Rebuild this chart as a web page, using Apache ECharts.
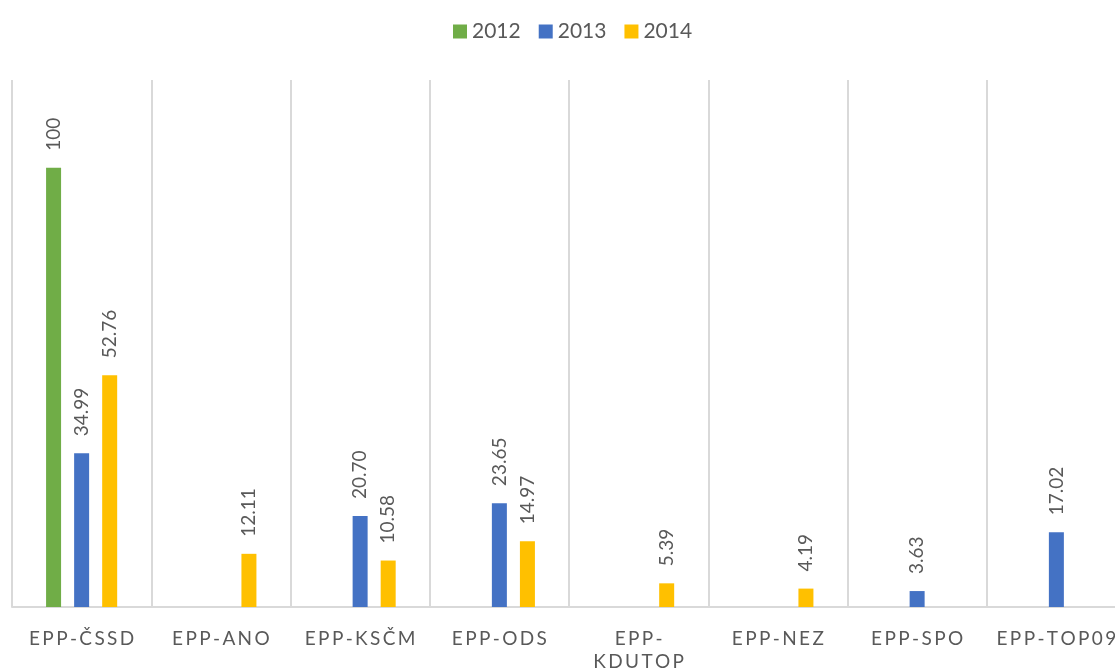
<!DOCTYPE html>
<html><head><meta charset="utf-8">
<script src="https://cdn.jsdelivr.net/npm/echarts@6/dist/echarts.min.js"></script>
<style>html,body{margin:0;padding:0;background:#fff}#c{width:1115px;height:668px}</style>
</head><body><div id="c"></div>
<script>
const categories = ['EPP-ČSSD','EPP-ANO','EPP-KSČM','EPP-ODS','EPP-KDUTOP','EPP-NEZ','EPP-SPO','EPP-TOP09'];
const seriesNames = ['2012','2013','2014'];
const values2012 = [100, null, null, null, null, null, null, null];
const values2013 = [34.99, null, 20.70, 23.65, null, null, 3.63, 17.02];
const values2014 = [52.76, 12.11, 10.58, 14.97, 5.39, 4.19, null, null];
const colors = ['#70AD47','#4472C4','#FFC000'];
const FONT = 'Lato';
const spaced = s => s.split('').join('\u2009');
function fmtCat(s){
  if (s.length > 9) { const i = s.indexOf('-'); return spaced(s.slice(0,i+1)) + '\n' + spaced(s.slice(i+1)); }
  return spaced(s);
}
const fmtVal = v => Number.isInteger(v) ? String(v) : v.toFixed(2);
const chart = echarts.init(document.getElementById('c'));
const mk = (name, data, color) => ({
  name, type:'bar', data, barWidth:15, barGap:'87%',
  itemStyle:{color},
  label:{show:true, position:'top', rotate:90, align:'left', verticalAlign:'middle', distance:17,
    color:'#595959', fontFamily:FONT, fontSize:19, formatter:p=>fmtVal(p.value)}
});
chart.setOption({
  animation:false,
  textStyle:{fontFamily:FONT},
  legend:{left:448, top:16, itemWidth:14, itemHeight:14, itemGap:18, icon:'rect',
    textStyle:{color:'#595959', fontSize:21, fontFamily:FONT}, data:seriesNames},
  grid:{left:12, top:80, width:1114, height:527, containLabel:false, outerBoundsMode:'none'},
  xAxis:{type:'category', data:categories,
    axisLine:{lineStyle:{color:'#d9d9d9', width:2}}, axisTick:{show:false},
    splitLine:{show:true, lineStyle:{color:'#d9d9d9', width:2}},
    axisLabel:{color:'#595959', fontSize:19, fontFamily:FONT, margin:20, lineHeight:23, interval:0, formatter:fmtCat}},
  yAxis:{type:'value', min:0, max:120, show:false, splitLine:{show:false}},
  series:[mk(seriesNames[0], values2012, colors[0]), mk(seriesNames[1], values2013, colors[1]), mk(seriesNames[2], values2014, colors[2])]
});
</script></body></html>
